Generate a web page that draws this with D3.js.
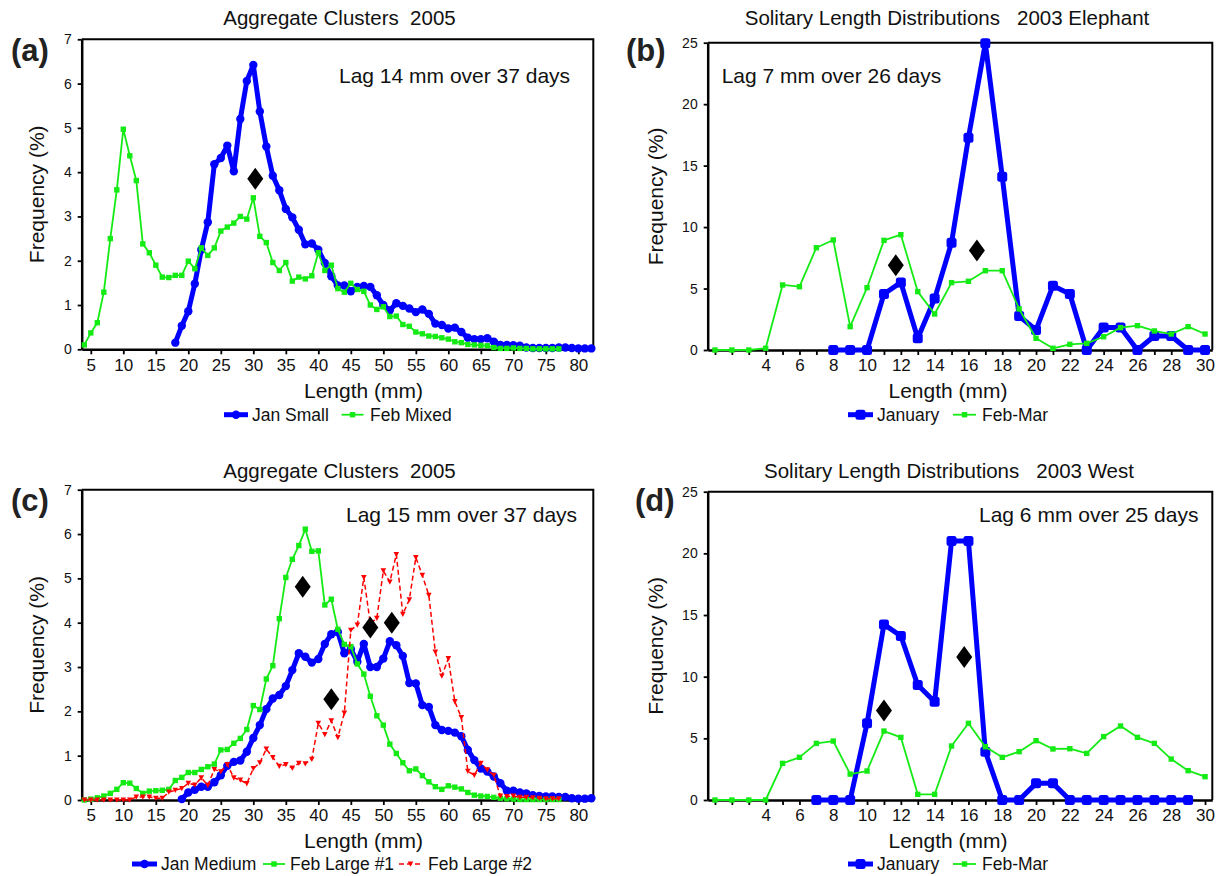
<!DOCTYPE html>
<html><head><meta charset="utf-8">
<script src="https://cdn.jsdelivr.net/npm/d3@7"></script>
<style>
body{margin:0;background:#fff}
text{font-family:"Liberation Sans",Arial,Helvetica,sans-serif;fill:#111;white-space:pre}
</style>
</head><body>
<svg id="chart" width="1219" height="876"></svg>
<script>
// ---------------- DATA ----------------
// Panel (a): Aggregate Clusters 2005
const aJanSmallStart = 18;
const aJanSmall = [0.15,0.53,0.86,1.48,2.25,2.87,4.18,4.32,4.6,4.02,5.2,6.06,6.42,5.37,4.58,3.92,3.59,3.17,2.98,2.7,2.37,2.39,2.25,1.95,1.65,1.44,1.44,1.31,1.41,1.43,1.41,1.22,1.0,0.88,1.04,0.98,0.92,0.84,0.9,0.8,0.58,0.55,0.47,0.49,0.39,0.26,0.23,0.23,0.25,0.17,0.1,0.1,0.09,0.08,0.04,0.03,0.03,0.03,0.03,0.04,0.04,0.03,0.02,0.02,0.02];
const aFebMixedStart = 4;
const aFebMixed = [0.1,0.37,0.6,1.29,2.5,3.6,4.97,4.37,3.81,2.38,2.18,1.9,1.63,1.62,1.67,1.67,1.99,1.82,2.29,2.12,2.29,2.67,2.76,2.85,3.0,2.94,3.42,2.55,2.41,1.96,1.78,1.96,1.54,1.63,1.59,1.66,2.18,1.78,1.9,1.37,1.29,1.49,1.35,1.31,1.0,0.9,0.96,0.74,0.75,0.56,0.52,0.39,0.35,0.3,0.29,0.26,0.23,0.17,0.15,0.11,0.1,0.09,0.08,0.04,0.02,0.02,0.03,0.02,0.02,0.01,0.01,0.01,0.01,0.01];
const aDiamonds = [[30.3,3.85]];

// Panel (b): Solitary 2003 Elephant
const bJanStart = 8;
const bJan = [0,0,0,4.56,5.5,0.95,4.18,8.73,17.27,24.95,14.1,2.77,1.63,5.23,4.56,0,1.84,1.84,0,1.14,1.14,0,0];
const bFebStart = 1;
const bFeb = [0,0,0,0.14,5.29,5.15,8.32,8.95,1.9,5.07,8.92,9.38,4.75,2.93,5.48,5.59,6.45,6.45,3.34,0.95,0.14,0.46,0.54,1.08,1.82,1.98,1.55,1.3,1.9,1.3];
const bDiamonds = [[11.7,6.9],[16.5,8.1]];

// Panel (c): Aggregate Clusters 2005
const cJanMediumStart = 19;
const cJanMedium = [0.02,0.17,0.23,0.3,0.3,0.4,0.56,0.77,0.86,0.89,1.09,1.4,1.69,2.05,2.29,2.37,2.57,2.93,3.31,3.23,3.1,3.18,3.52,3.74,3.79,3.31,3.4,3.12,3.52,3.0,3.0,3.19,3.58,3.49,3.25,2.64,2.63,2.14,2.1,1.69,1.58,1.56,1.52,1.44,1.13,0.9,0.71,0.64,0.53,0.38,0.21,0.21,0.17,0.15,0.11,0.09,0.08,0.08,0.07,0.07,0.04,0.03,0.03,0.04];
const cFebLarge1Start = 4;
const cFebLarge1 = [0,0.02,0.05,0.09,0.15,0.24,0.39,0.38,0.26,0.15,0.2,0.21,0.22,0.24,0.44,0.51,0.62,0.62,0.69,0.75,0.81,1.13,1.14,1.28,1.39,1.59,2.13,2.04,2.73,3.03,4.09,5.02,5.43,5.74,6.11,5.61,5.62,4.4,4.53,3.85,3.51,3.46,3.07,2.84,2.34,1.9,1.69,1.26,1.05,0.84,0.66,0.7,0.55,0.41,0.3,0.24,0.32,0.29,0.25,0.17,0.11,0.09,0.08,0.06,0.04,0.03,0.02,0.01,0.01,0.01,0.01,0.01,0.01,0.01];
const cFebLarge2Start = 4;
const cFebLarge2 = [0,0,0,0,0,0,0,0,0.07,0.07,0.07,0.04,0.04,0.18,0.22,0.26,0.38,0.34,0.5,0.33,0.69,0.64,0.8,0.5,0.45,0.37,0.71,0.84,1.15,0.96,0.76,0.8,0.72,0.83,0.82,0.92,1.73,1.48,1.79,1.41,1.96,3.83,3.95,5.02,3.98,4.1,5.17,4.92,5.54,4.19,4.52,5.47,5.07,4.62,3.34,2.8,3.19,2.22,1.86,0.65,0.56,0.83,0.68,0.56,0.09,0.08,0.09,0.06,0.06,0.05,0.04,0.03,0.03,0.03];
const cDiamonds = [[37.6,4.81],[42.0,2.27],[48.0,3.89],[51.3,4.0]];

// Panel (d): Solitary 2003 West
const dJanStart = 7;
const dJan = [0,0,0,6.22,14.24,13.3,9.32,7.97,21.0,21.0,3.92,0,0,1.35,1.35,0,0,0,0,0,0,0,0];
const dFebStart = 1;
const dFeb = [0,0,0,0,2.97,3.46,4.59,4.78,2.1,2.35,5.59,5.08,0.46,0.46,4.38,6.22,4.32,3.46,3.92,4.81,4.14,4.16,3.78,5.14,6.0,5.08,4.59,3.32,2.38,1.89];
const dDiamonds = [[11.0,7.25],[15.75,11.6]];

// Tick labels
const aggXTicks = [5,10,15,20,25,30,35,40,45,50,55,60,65,70,75,80];
const aggYTicks = [0,1,2,3,4,5,6,7];
const solXTicks = [1,2,3,4,5,6,7,8,9,10,11,12,13,14,15,16,17,18,19,20,21,22,23,24,25,26,27,28,29,30];
const solXLabels = [4,6,8,10,12,14,16,18,20,22,24,26,28,30];
const solYTicks = [0,5,10,15,20,25];

const BLUE = "#0000ff", GREEN = "#14eb14", RED = "#ff0000";

const toPts = (start, vals) => vals.map((v,i)=>({x:start+i, y:v}));

// ---------------- DRAW ----------------
const svg = d3.select("#chart");

function marker(g, type, cx, cy){
  if(type==="circle"){
    g.append("circle").attr("cx",cx).attr("cy",cy).attr("r",4.2).attr("fill",BLUE);
  } else if(type==="bsquare"){
    g.append("rect").attr("x",cx-5).attr("y",cy-5).attr("width",10).attr("height",10).attr("rx",2.5).attr("fill",BLUE);
  } else if(type==="gsquare"){
    g.append("rect").attr("x",cx-2.7).attr("y",cy-2.7).attr("width",5.4).attr("height",5.4).attr("fill",GREEN);
  } else if(type==="rtri"){
    g.append("path").attr("d",`M${cx-2.8},${cy-2.5}L${cx+2.8},${cy-2.5}L${cx},${cy+2.8}Z`).attr("fill",RED);
  }
}

function drawPanel(p){
  const g = svg.append("g");
  const x = d3.scaleLinear().domain(p.xDomain).range([p.left,p.right]);
  const y = d3.scaleLinear().domain(p.yDomain).range([p.bottom,p.top]);

  // frame (top & right)
  g.append("path").attr("d",`M${p.left},${p.top}H${p.right}V${p.bottom}`)
    .attr("fill","none").attr("stroke","#000").attr("stroke-width",2);

  // axes
  const xa = d3.axisBottom(x).tickValues(p.xTicks).tickSize(5).tickSizeOuter(0).tickPadding(4)
    .tickFormat(p.xFormat);
  const gx = g.append("g").attr("transform",`translate(0,${p.bottom})`).call(xa);
  gx.select(".domain").attr("stroke","#000").attr("stroke-width",2.5);
  gx.selectAll(".tick line").attr("stroke","#000").attr("stroke-width",1.8);
  gx.selectAll(".tick text").attr("font-size",17).attr("font-family","Liberation Sans, Arial, sans-serif").attr("fill","#111").attr("dy","0.72em");

  const ya = d3.axisLeft(y).tickValues(p.yTicks).tickSize(4).tickSizeOuter(0).tickPadding(6)
    .tickFormat(d3.format("d"));
  const gy = g.append("g").attr("transform",`translate(${p.left},0)`).call(ya);
  gy.select(".domain").attr("stroke","#000").attr("stroke-width",2.5);
  gy.selectAll(".tick line").attr("stroke","#000").attr("stroke-width",1.8);
  gy.selectAll(".tick text").attr("font-size",14).attr("font-family","Liberation Sans, Arial, sans-serif").attr("fill","#111");

  // series
  const line = d3.line().x(d=>x(d.x)).y(d=>y(d.y));
  p.series.forEach(s=>{
    const pts = toPts(s.start, s.values);
    g.append("path").datum(pts).attr("d",line).attr("fill","none")
      .attr("stroke",s.color).attr("stroke-width",s.width)
      .attr("stroke-linejoin","round")
      .attr("stroke-dasharray",s.dash||null);
    const mg = g.append("g");
    pts.forEach(d=>marker(mg, s.marker, x(d.x), y(d.y)));
  });

  // diamonds
  p.diamonds.forEach(([dx,dy])=>{
    const cx=x(dx), cy=y(dy);
    g.append("path").attr("d",`M${cx},${cy-11}L${cx+8},${cy}L${cx},${cy+11}L${cx-8},${cy}Z`).attr("fill","#000");
  });

  // texts
  g.append("text").attr("x",p.titleX).attr("y",p.titleY).attr("text-anchor","middle")
    .attr("font-size",20.5).attr("xml:space","preserve").text(p.title);
  g.append("text").attr("x",p.tagX).attr("y",p.tagY).attr("font-size",31).attr("font-weight","bold")
    .style("fill","#222").text(p.tag);
  g.append("text").attr("x",p.lagX).attr("y",p.lagY).attr("font-size",21).text(p.lag);
  g.append("text").attr("x",p.xlabX).attr("y",p.xlabY).attr("text-anchor","middle").attr("font-size",21).text("Length (mm)");
  g.append("text").attr("transform",`translate(${p.ylabX},${(p.top+p.bottom)/2}) rotate(-90)`)
    .attr("text-anchor","middle").attr("font-size",21).text("Frequency (%)");

  // legend
  p.legend.forEach(l=>{
    const ly = p.legY - 6;
    g.append("line").attr("x1",l.x1).attr("x2",l.x2).attr("y1",ly).attr("y2",ly)
      .attr("stroke",l.s.color).attr("stroke-width",l.s.width).attr("stroke-dasharray",l.s.dash||null);
    const lg = g.append("g");
    marker(lg, l.s.marker, (l.x1+l.x2)/2, ly);
    g.append("text").attr("x",l.tx).attr("y",p.legY).attr("font-size",17.5).text(l.s.name);
  });
}

const sA1 = {name:"Jan Small", start:aJanSmallStart, values:aJanSmall, color:BLUE, width:5, marker:"circle"};
const sA2 = {name:"Feb Mixed", start:aFebMixedStart, values:aFebMixed, color:GREEN, width:1.8, marker:"gsquare"};
const sB1 = {name:"January", start:bJanStart, values:bJan, color:BLUE, width:5, marker:"bsquare"};
const sB2 = {name:"Feb-Mar", start:bFebStart, values:bFeb, color:GREEN, width:1.8, marker:"gsquare"};
const sC1 = {name:"Jan Medium", start:cJanMediumStart, values:cJanMedium, color:BLUE, width:5, marker:"circle"};
const sC2 = {name:"Feb Large #1", start:cFebLarge1Start, values:cFebLarge1, color:GREEN, width:1.8, marker:"gsquare"};
const sC3 = {name:"Feb Large #2", start:cFebLarge2Start, values:cFebLarge2, color:RED, width:1.5, marker:"rtri", dash:"5,3"};
const sD1 = {name:"January", start:dJanStart, values:dJan, color:BLUE, width:5, marker:"bsquare"};
const sD2 = {name:"Feb-Mar", start:dFebStart, values:dFeb, color:GREEN, width:1.8, marker:"gsquare"};

const aggFmt = d=>d;
const solFmt = d=> solXLabels.includes(d) ? d : "";

drawPanel({left:81.7,right:593.3,top:39.3,bottom:349.3,xDomain:[3.6,82.3],yDomain:[0,7],
  xTicks:aggXTicks,yTicks:aggYTicks,xFormat:aggFmt,series:[sA1,sA2],diamonds:aDiamonds,
  title:"Aggregate Clusters  2005",titleX:339.5,titleY:25,tag:"(a)",tagX:11,tagY:61,
  lag:"Lag 14 mm over 37 days",lagX:339,lagY:83,xlabX:363.5,xlabY:398,ylabX:44,legY:420.7,
  legend:[{s:sA1,x1:224,x2:248,tx:252},{s:sA2,x1:341.5,x2:363.5,tx:370}]});

drawPanel({left:707.7,right:1212.3,top:42.7,bottom:350,xDomain:[0.57,30.43],yDomain:[0,25],
  xTicks:solXTicks,yTicks:solYTicks,xFormat:solFmt,series:[sB1,sB2],diamonds:bDiamonds,
  title:"Solitary Length Distributions   2003 Elephant",titleX:947,titleY:25,tag:"(b)",tagX:626,tagY:61,
  lag:"Lag 7 mm over 26 days",lagX:721.7,lagY:83,xlabX:948,xlabY:398,ylabX:663,legY:420.7,
  legend:[{s:sB1,x1:848,x2:873,tx:877},{s:sB2,x1:953,x2:976,tx:982}]});

drawPanel({left:81.7,right:593.3,top:489.7,bottom:800,xDomain:[3.6,82.3],yDomain:[0,7],
  xTicks:aggXTicks,yTicks:aggYTicks,xFormat:aggFmt,series:[sC1,sC2,sC3],diamonds:cDiamonds,
  title:"Aggregate Clusters  2005",titleX:339.5,titleY:478,tag:"(c)",tagX:11,tagY:511,
  lag:"Lag 15 mm over 37 days",lagX:346,lagY:521.7,xlabX:363.5,xlabY:848,ylabX:44,legY:870,
  legend:[{s:sC1,x1:132,x2:157,tx:161},{s:sC2,x1:263,x2:285,tx:290},{s:sC3,x1:399,x2:422,tx:428}]});

drawPanel({left:707.7,right:1212.3,top:491.7,bottom:800,xDomain:[0.57,30.43],yDomain:[0,25],
  xTicks:solXTicks,yTicks:solYTicks,xFormat:solFmt,series:[sD1,sD2],diamonds:dDiamonds,
  title:"Solitary Length Distributions   2003 West",titleX:949,titleY:478,tag:"(d)",tagX:635,tagY:511,
  lag:"Lag 6 mm over 25 days",lagX:979,lagY:521.7,xlabX:948,xlabY:848,ylabX:663,legY:870,
  legend:[{s:sD1,x1:848,x2:873,tx:877},{s:sD2,x1:953,x2:976,tx:982}]});
</script>
</body></html>
